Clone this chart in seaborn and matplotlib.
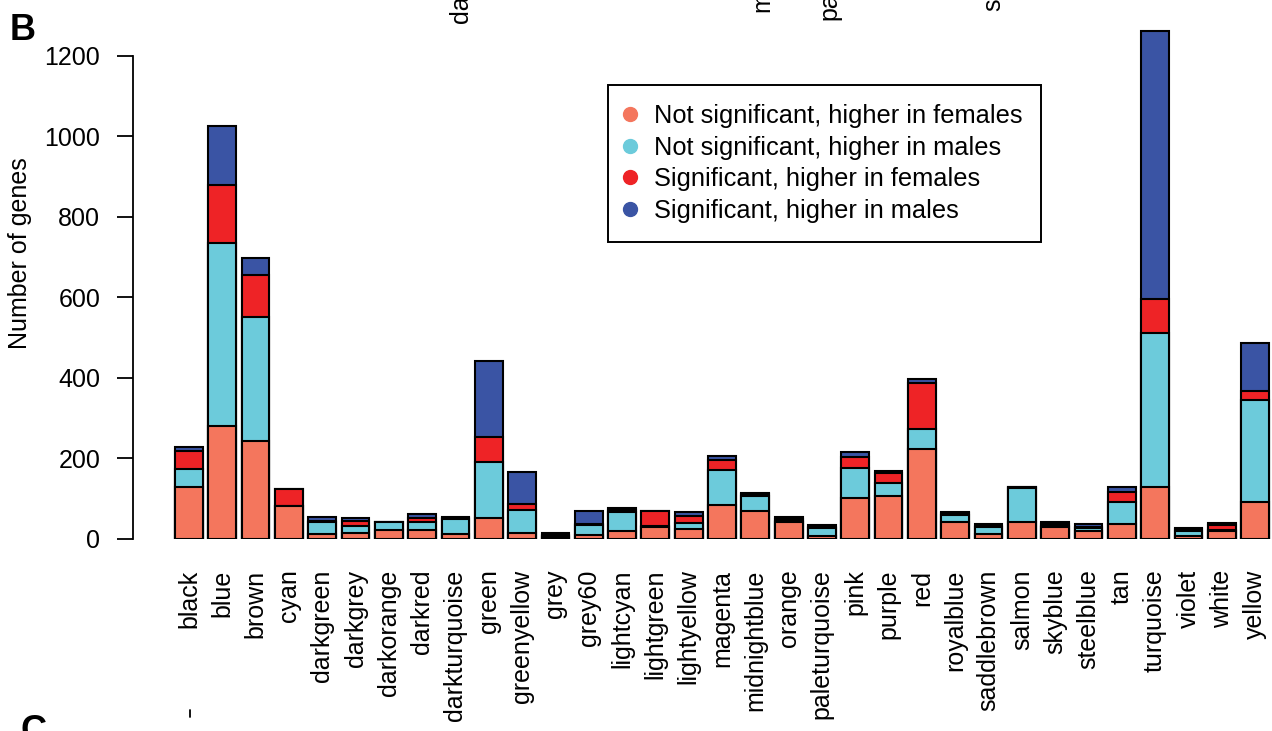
import numpy as np
import pandas as pd
import matplotlib
matplotlib.use("Agg")
import matplotlib.pyplot as plt
from matplotlib.lines import Line2D
import seaborn as sns

modules = ["black", "blue", "brown", "cyan", "darkgreen", "darkgrey", "darkorange",
           "darkred", "darkturquoise", "green", "greenyellow", "grey", "grey60",
           "lightcyan", "lightgreen", "lightyellow", "magenta", "midnightblue",
           "orange", "paleturquoise", "pink", "purple", "red", "royalblue",
           "saddlebrown", "salmon", "skyblue", "steelblue", "tan", "turquoise",
           "violet", "white", "yellow"]

ns_female = [130, 280, 244, 81, 12, 16, 22, 23, 12, 52, 14, 4, 11, 21, 30, 26, 84, 70,
             41, 8, 103, 106, 224, 43, 12, 41, 31, 19, 37, 128, 7, 20, 93]
ns_male = [44, 455, 308, 0, 31, 17, 19, 19, 37, 139, 59, 3, 25, 45, 3, 13, 87, 36,
           3, 19, 73, 32, 49, 17, 18, 86, 2, 9, 56, 383, 14, 3, 252]
sig_female = [45, 145, 104, 44, 2, 12, 0, 10, 3, 62, 13, 4, 1, 5, 37, 18, 26, 5,
              6, 3, 28, 27, 115, 4, 3, 1, 5, 3, 25, 84, 3, 12, 23]
sig_male = [9, 146, 42, 0, 10, 8, 1, 10, 3, 189, 80, 5, 33, 5, 0, 9, 9, 4,
            4, 5, 11, 4, 9, 3, 4, 2, 3, 6, 12, 667, 3, 5, 118]

series_names = ["Not significant, higher in females", "Not significant, higher in males",
                "Significant, higher in females", "Significant, higher in males"]
series_colors = ["#F4765D", "#6CCBDB", "#EE2326", "#3A54A4"]
yticks = [0, 200, 400, 600, 800, 1000, 1200]

sns.set_theme(style="white")
plt.rcParams["font.family"] = ["Liberation Sans", "DejaVu Sans"]
plt.rcParams["text.color"] = "black"
plt.rcParams["xtick.color"] = "black"
plt.rcParams["ytick.color"] = "black"
plt.rcParams["axes.labelcolor"] = "black"

fig = plt.figure(figsize=(12.72, 7.31), dpi=100)
W, H = 1272, 731
ax = fig.add_axes([172.3 / W, 1 - 539 / H, 1099.4 / W, 523.3 / H])

layers = [ns_female, ns_male, sig_female, sig_male]
cum = np.cumsum(np.array(layers, dtype=float), axis=0)
df = pd.DataFrame({"module": modules})
# draw cumulative totals from the top layer down so stacks appear
for i in range(3, -1, -1):
    df["val"] = cum[i]
    sns.barplot(data=df, x="module", y="val", color=series_colors[i], saturation=1,
                edgecolor="black", linewidth=1.5, width=0.833, ax=ax, order=modules)

ax.set_xlim(-0.5, len(modules) - 0.5)
ax.set_ylim(0, 1300)
ax.set_xlabel("")
ax.set_ylabel("")
for s in ["top", "right", "bottom"]:
    ax.spines[s].set_visible(False)
ax.spines["left"].set_position(("outward", 28.3))
ax.spines["left"].set_bounds(0, 1200)
ax.spines["left"].set_linewidth(1.3)
ax.spines["left"].set_color("black")
ax.set_yticks(yticks)
ax.set_yticklabels([str(v) for v in yticks], fontsize=18, color="black")
ax.tick_params(axis="y", length=11.5, width=1.3, color="black", pad=12, left=True)
ax.tick_params(axis="x", length=0, pad=22)
ax.set_xticks(range(len(modules)))
ax.set_xticklabels(modules, rotation=90, fontsize=18, va="top", ha="center",
                   color="black")

fig.text(20 / W, 1 - 253 / H, "Number of genes", rotation=90, fontsize=18,
         ha="center", va="center", color="black")

handles = [Line2D([0], [0], marker="o", linestyle="", markersize=10,
                  markerfacecolor=c, markeredgecolor=c) for c in series_colors]
leg = fig.legend(handles, series_names, loc="upper left",
                 bbox_to_anchor=(608 / W, 1 - 85 / H), fontsize=18.3, frameon=True,
                 fancybox=False, edgecolor="black", framealpha=1, borderaxespad=0,
                 labelspacing=0.3, handletextpad=0.85, handlelength=0.2,
                 borderpad=0.75)
leg.get_frame().set_linewidth(1.4)
leg.get_frame().set_edgecolor("black")
for t in leg.get_texts():
    t.set_color("black")

fig.text(10 / W, 1 - 40 / H, "B", fontsize=26, fontweight="bold", va="baseline",
         color="black")
fig.text(20 / W, 1 - 741 / H, "C", fontsize=26, fontweight="bold", va="baseline",
         color="black")
fig.add_artist(Line2D([190 / W, 190 / W], [1 - 710 / H, 1 - 717 / H],
                      color="black", lw=1.3, transform=fig.transFigure))
for txt, xp, yp in [("da", 461, 23), ("m", 762, 12), ("pa", 829, 20), ("s", 993, 11)]:
    fig.text(xp / W, 1 - yp / H, txt, rotation=90, fontsize=18,
             ha="center", va="bottom", color="black")

fig.savefig("out.png", dpi=100)
